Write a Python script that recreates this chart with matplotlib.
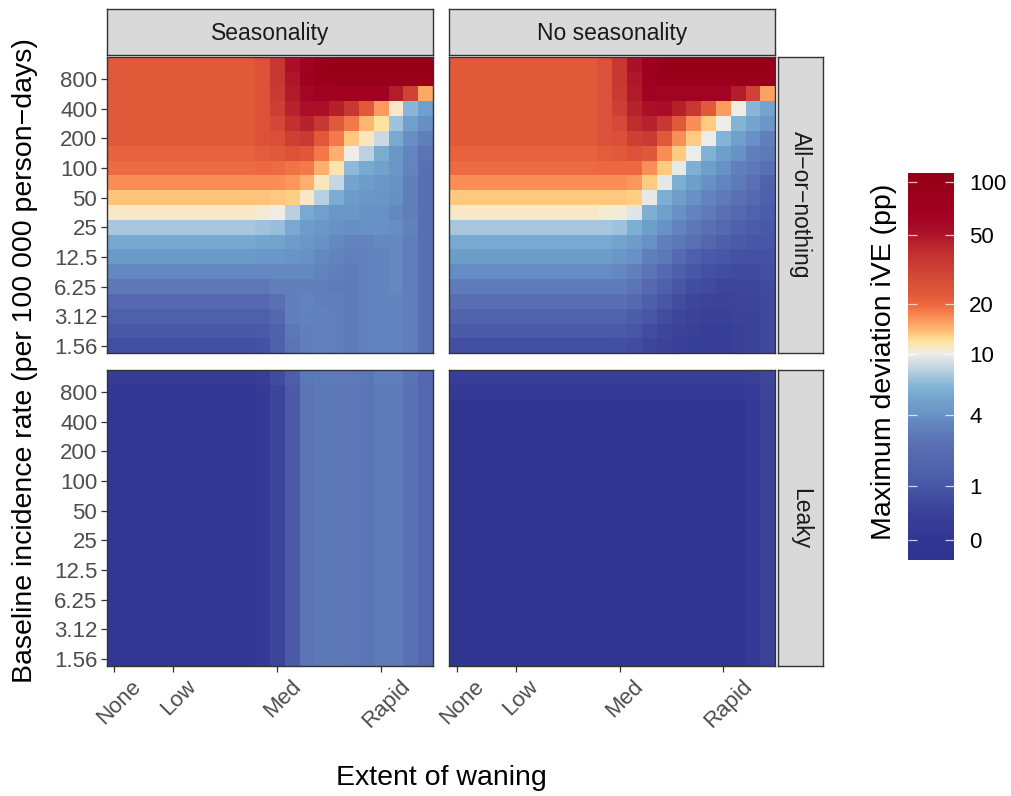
import numpy as np
import matplotlib
matplotlib.use("Agg")
import matplotlib.pyplot as plt
from matplotlib.colors import LinearSegmentedColormap
from matplotlib.transforms import ScaledTranslation

plt.rcParams['font.family'] = ['Liberation Sans', 'DejaVu Sans']

# ---------------- data ----------------
incidence_rates = [1131, 800, 566, 400, 283, 200, 141, 100, 70.7, 50, 35.4, 25,
                   17.7, 12.5, 8.84, 6.25, 4.42, 3.12, 2.21, 1.56]  # top -> bottom
y_tick_values = [800, 400, 200, 100, 50, 25, 12.5, 6.25, 3.12, 1.56]
y_tick_labels = ["800", "400", "200", "100", "50", "25", "12.5", "6.25", "3.12", "1.56"]

n_waning = 22
waning_tick_pos = [0, 4, 11, 18]
waning_tick_labels = ["None", "Low", "Med", "Rapid"]

col_facets = ["Seasonality", "No seasonality"]
row_facets = ["All\u2212or\u2212nothing", "Leaky"]

# All-or-nothing, seasonality (rows top->bottom, 22 waning levels)
aon_seasonal = [
    [23]*10 + [25.5, 36, 52, 70, 95, 100, 100, 100, 100, 100, 100, 100],
    [23]*10 + [25.5, 36, 49, 72, 88, 92, 95, 95, 95, 95, 95, 95],
    [23]*10 + [25.5, 34, 48, 62, 70, 70, 70, 70, 70, 47, 31, 15],
    [23]*10 + [25.5, 32, 45, 53, 53, 46, 36, 23, 15.8, 11, 6.3, 4.9],
    [23]*10 + [25.5, 29, 39, 45, 36, 23, 18.3, 14, 12, 7.1, 4.9, 3.9],
    [23]*10 + [25.5, 26.5, 32, 34, 23, 18.3, 13.3, 11.3, 8.5, 5.5, 3.9, 3.2],
    [21]*10 + [22, 23, 25.5, 24, 18.5, 14.5, 10, 8, 5.6, 4.3, 3.5, 2.6],
    [19.5]*10 + [19.7, 19.5, 19, 18.3, 14.5, 11.6, 6.5, 5.5, 5, 4.3, 3.5, 2.3],
    [17]*10 + [17, 16.8, 16, 14.5, 11.3, 8.3, 5.1, 4.6, 4.3, 4, 3.2, 2.3],
    [13.5]*10 + [13.5, 13.3, 13.1, 11, 7.9, 5.7, 4.6, 4.3, 4.15, 3.95, 3.2, 2.3],
    [11]*10 + [10.7, 10, 7.9, 5.5, 4.9, 4.3, 4.3, 4, 4, 3.6, 3.1, 2.3],
    [7.4]*10 + [7.1, 6.8, 5.5, 4.6, 4.3, 4, 3.9, 4, 4, 3.9, 3.3, 2.3],
    [5.4]*10 + [5.2, 5.1, 4.6, 4.3, 4, 3.6, 3.4, 3.4, 3.6, 3.6, 3.1, 2.3],
    [4.4]*10 + [4.3, 4.3, 4.15, 4, 3.6, 3.4, 3.2, 3.3, 3.4, 3.6, 3.1, 2.3],
    [3.6]*10 + [3.6, 3.6, 3.6, 3.6, 3.4, 3.2, 3.0, 3.3, 3.4, 3.6, 3.1, 2.3],
    [2.8]*10 + [2.8, 3.2, 3.2, 3.2, 3.2, 3.0, 2.95, 3.3, 3.4, 3.6, 3.1, 2.3],
    [2.0]*10 + [2.0, 2.4, 3.2, 3.4, 3.2, 3.2, 2.95, 3.3, 3.4, 3.4, 3.1, 2.3],
    [1.35]*10 + [1.4, 1.9, 3.2, 3.3, 3.3, 3.2, 2.95, 3.3, 3.4, 3.4, 3.1, 2.3],
    [1.05]*10 + [1.1, 1.45, 2.8, 3.2, 3.3, 3.2, 2.95, 3.3, 3.4, 3.4, 3.1, 2.3],
    [0.75]*10 + [0.85, 1.45, 2.6, 3.2, 3.3, 3.2, 2.95, 3.3, 3.4, 3.4, 3.1, 2.3],
]

# All-or-nothing, no seasonality
aon_noseason = [
    [23]*10 + [25.5, 36, 52, 75, 100, 100, 100, 100, 100, 100, 100, 100],
    [23]*10 + [25.5, 36, 49, 72, 92, 92, 92, 92, 92, 92, 92, 92],
    [23]*10 + [25.5, 34, 48, 70, 68, 68, 68, 68, 68, 47, 31, 15.5],
    [23]*10 + [25.5, 32, 45, 52, 55, 46, 36, 23, 15.8, 10, 6.3, 5.1],
    [23]*10 + [25.5, 28.5, 41, 45, 36, 23, 16.8, 13.2, 10, 6.1, 5.1, 4.3],
    [23]*10 + [25.5, 26.5, 32, 34, 23, 16.8, 13.2, 9.9, 6.1, 4.9, 4, 3.2],
    [21]*10 + [22, 23, 25.5, 23.5, 17, 13.2, 9.9, 6, 4.8, 4, 3.2, 2.9],
    [19.5]*10 + [19.7, 19.7, 19.7, 17, 13.2, 9.7, 5.9, 4.8, 4, 3.2, 2.8, 2.4],
    [16.8]*10 + [16.8, 16.8, 16, 13.2, 9.6, 5.8, 4.8, 4, 3.5, 2.95, 2.4, 1.5],
    [13.3]*10 + [13.3, 13.3, 13, 9.7, 5.8, 4.8, 4, 3.4, 2.95, 2.4, 2, 1.35],
    [11]*10 + [10.7, 10.4, 9.4, 5.8, 4.9, 4, 3.4, 3, 2.4, 2, 1.5, 1.2],
    [7.4]*10 + [7.3, 7.1, 5.8, 4.8, 4, 3.4, 2.8, 2.4, 2, 1.45, 1.2, 1.05],
    [5.5]*10 + [5.5, 5.1, 4.6, 4, 3.2, 2.8, 2.4, 1.8, 1.3, 1.1, 0.95, 0.95],
    [4.6]*10 + [4.6, 4.3, 4, 3.2, 2.8, 2, 1.35, 1.1, 0.95, 0.85, 0.82, 0.82],
    [3.8]*10 + [3.8, 3.6, 3.2, 2.6, 2, 1.3, 0.95, 0.82, 0.72, 0.68, 0.68, 0.8],
    [3.0]*10 + [3.0, 3.0, 2.6, 2, 1.35, 0.95, 0.72, 0.65, 0.58, 0.58, 0.58, 0.68],
    [2.3]*10 + [2.3, 2.3, 2, 1.3, 0.95, 0.72, 0.58, 0.5, 0.45, 0.5, 0.5, 0.62],
    [1.6]*10 + [1.6, 1.5, 1.2, 0.95, 0.72, 0.58, 0.45, 0.4, 0.4, 0.45, 0.45, 0.62],
    [1.15]*10 + [1.15, 1.1, 0.95, 0.72, 0.58, 0.45, 0.4, 0.3, 0.3, 0.4, 0.45, 0.62],
    [0.8]*10 + [0.8, 0.8, 0.72, 0.58, 0.45, 0.4, 0.3, 0.28, 0.28, 0.4, 0.45, 0.62],
]

# Leaky, seasonality: identical across incidence rows except the top row
leaky_seasonal_top = [0.22]*10 + [0.3, 0.7, 1.3, 2.75, 2.9, 2.9, 2.85, 2.75, 3.1, 3.1, 2.55, 1.9]
leaky_seasonal_rest = [0.05]*10 + [0.15, 0.55, 1.15, 2.6, 2.8, 2.8, 2.7, 2.6, 2.95, 2.95, 2.4, 1.75]

# Leaky, no seasonality
leaky_noseason_row0 = [0.3]*20 + [0.4, 0.6]
leaky_noseason_row1 = [0.12]*20 + [0.2, 0.5]
leaky_noseason_rest = [0.02]*20 + [0.12, 0.45]

cbar_ticks = [0, 1, 4, 10, 20, 50, 100]
cbar_vmin, cbar_vmax = -0.23, 113

# colour scale anchors (value -> colour), log1p spaced
anchor_vals = [-0.23, 0, 0.2, 0.5, 1, 1.5, 2, 2.5, 3, 3.5, 4, 5, 6, 7, 8, 10, 11, 12, 13, 14,
               15.5, 17, 18.5, 20, 23, 27, 32, 40, 45, 50, 60, 75, 100, 113]
anchor_cols = ['#2e3390', '#303692', '#353b96', '#3c4399', '#4858a8', '#5062ac', '#5669b0',
               '#5a72b5', '#5e7cb9', '#6385bf', '#6892c5', '#70a2cc', '#80b2d6', '#9cc0dc',
               '#bcd2e2', '#eeede8', '#f8e8c8', '#fee2a0', '#fed084', '#fdb874', '#fca060',
               '#f88c55', '#f47848', '#ec6640', '#e05a3a', '#d84e38', '#cc4034', '#c0302e',
               '#b8242c', '#ac1428', '#a50626', '#a00020', '#980018', '#920016']

# ---------------- figure ----------------
W, H = 1011, 796
fig = plt.figure(figsize=(W / 100, H / 100), dpi=100)


def rect(x0, y0, x1, y1):
    return [x0 / W, 1 - y1 / H, (x1 - x0) / W, (y1 - y0) / H]


tmin, tmax = np.log1p(cbar_vmin), np.log1p(cbar_vmax)
pos = [(np.log1p(v) - tmin) / (tmax - tmin) for v in anchor_vals]
pos[0], pos[-1] = 0.0, 1.0
cmap = LinearSegmentedColormap.from_list("ive", list(zip(pos, anchor_cols)), N=512)

leaky_seasonal = [leaky_seasonal_top] + [leaky_seasonal_rest] * 19
leaky_noseason = [leaky_noseason_row0, leaky_noseason_row1] + [leaky_noseason_rest] * 18
panels = [[aon_seasonal, aon_noseason], [leaky_seasonal, leaky_noseason]]

col_x = [(106.7, 433.0), (449.3, 775.3)]
row_y = [(56.7, 353.3), (370.0, 666.3)]

edge = '#333333'
xe = np.arange(n_waning + 1) - 0.5
ye = np.arange(len(incidence_rates) + 1) - 0.5
y_tick_rows = [incidence_rates.index(v) for v in y_tick_values]

for r in range(2):
    for c in range(2):
        ax = fig.add_axes(rect(col_x[c][0], row_y[r][0], col_x[c][1], row_y[r][1]))
        mat = np.log1p(np.array(panels[r][c], dtype=float))
        ax.pcolormesh(xe, ye, mat, cmap=cmap, vmin=tmin, vmax=tmax,
                      shading='flat', antialiased=False, linewidth=0)
        ax.set_xlim(xe[0], xe[-1])
        ax.set_ylim(ye[-1], ye[0])
        for s in ax.spines.values():
            s.set_color(edge)
            s.set_linewidth(1.0)
        ax.tick_params(length=4.3, width=0.9, color=edge, labelsize=16,
                       labelcolor='#4d4d4d', pad=2.5)
        ax.set_xticks(waning_tick_pos)
        ax.set_yticks(y_tick_rows)
        if c == 0:
            ax.set_yticklabels(y_tick_labels)
        else:
            ax.tick_params(axis='y', left=False, labelleft=False)
        if r == 1:
            ax.set_xticklabels(waning_tick_labels, rotation=45, ha='center', va='top')
            for lbl in ax.get_xticklabels():
                lbl.set_transform(lbl.get_transform() +
                                  ScaledTranslation(5 / 100, 0, fig.dpi_scale_trans))
        else:
            ax.tick_params(axis='x', bottom=False, labelbottom=False)

# strips
strip_face = '#d9d9d9'
for c in range(2):
    sa = fig.add_axes(rect(col_x[c][0], 9.3, col_x[c][1], 55.3))
    sa.set_facecolor(strip_face)
    sa.set_xticks([]); sa.set_yticks([])
    for s in sa.spines.values():
        s.set_color(edge); s.set_linewidth(1.0)
    sa.text(0.5, 0.47, col_facets[c], transform=sa.transAxes, ha='center', va='center',
            fontsize=16.5, color='#1a1a1a')
for r in range(2):
    sa = fig.add_axes(rect(778.3, row_y[r][0], 822.7, row_y[r][1]))
    sa.set_facecolor(strip_face)
    sa.set_xticks([]); sa.set_yticks([])
    for s in sa.spines.values():
        s.set_color(edge); s.set_linewidth(1.0)
    sa.text(0.5, 0.5, row_facets[r], transform=sa.transAxes, ha='center', va='center',
            fontsize=16.5, color='#1a1a1a', rotation=-90)

# axis titles
fig.text(441 / W, 1 - 778 / H, "Extent of waning", ha='center', va='center',
         fontsize=20.5, color='black')
fig.text(25 / W, 1 - 361 / H, "Baseline incidence rate (per 100 000 person\u2212days)",
         ha='center', va='center', rotation=90, fontsize=20.5, color='black')

# colourbar
cax = fig.add_axes(rect(908, 173, 954, 560))
tgrid = np.linspace(tmin, tmax, 400)
cax.pcolormesh([0, 1], tgrid, ((tgrid[:-1] + tgrid[1:]) / 2)[:, None], cmap=cmap,
               vmin=tmin, vmax=tmax, shading='flat', antialiased=False)
cax.set_xlim(0, 1)
cax.set_ylim(tmin, tmax)
cax.set_xticks([])
for s in cax.spines.values():
    s.set_visible(False)
cax.set_yticks(np.log1p(cbar_ticks))
cax.set_yticklabels([str(t) for t in cbar_ticks])
cax.tick_params(axis='y', left=True, right=True, labelleft=False, labelright=True,
                direction='in', length=6.5, width=0.9, color=(1, 1, 1, 0.75),
                labelsize=16, labelcolor='black', pad=11)
fig.text(884 / W, 1 - 362 / H, "Maximum deviation iVE (pp)", ha='center', va='center',
         rotation=90, fontsize=20.5, color='black')

fig.savefig("out.png", dpi=100)
